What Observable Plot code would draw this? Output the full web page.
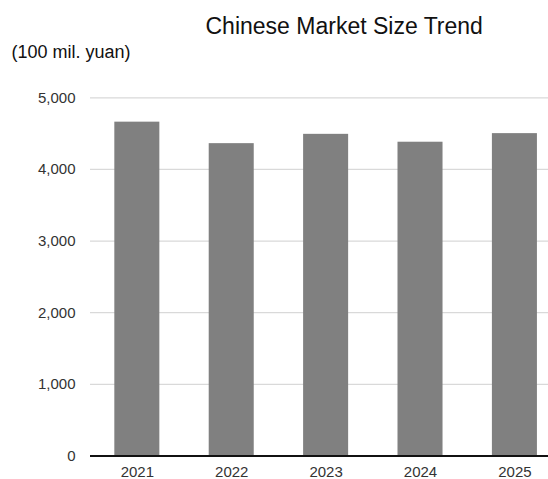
<!DOCTYPE html>
<html>
<head>
<meta charset="utf-8">
<script src="https://cdn.jsdelivr.net/npm/d3@7"></script>
<script src="https://cdn.jsdelivr.net/npm/@observablehq/plot@0.6"></script>
<style>
  html, body { margin: 0; padding: 0; background: #fff; overflow: hidden; }
  #chart svg { display: block; }
</style>
</head>
<body>
<div id="chart"></div>
<script>
const years = ["2021", "2022", "2023", "2024", "2025"];
const values = [4660, 4360, 4490, 4380, 4500];
const yTicks = [0, 1000, 2000, 3000, 4000, 5000];
const titleText = "Chinese Market Size Trend";
const unitText = "(100 mil. yuan)";

const data = years.map((year, i) => ({year, value: values[i]}));

const chart = Plot.plot({
  width: 548,
  height: 479,
  marginTop: 97.3,
  marginBottom: 23.5,
  marginLeft: 90,
  marginRight: 0,
  style: {fontFamily: "'Liberation Sans', Arial, sans-serif", fontSize: "15px", color: "#333", background: "#fff"},
  x: {type: "band", domain: years, paddingInner: 0.523, paddingOuter: 0.1875, align: 0.687, round: false, label: null},
  y: {domain: [0, 5000], label: null},
  marks: [
    Plot.ruleY(yTicks.filter(d => d > 0), {stroke: "#d9d9d9", strokeWidth: 1.3}),
    Plot.barY(data, {x: "year", y: "value", fill: "#808080"}),
    Plot.ruleY([0], {stroke: "#111", strokeWidth: 1.8}),
    Plot.axisY({ticks: yTicks, tickSize: 0, tickPadding: 15, tickFormat: d3.format(","), label: null, fill: "#333", fontSize: 15}),
    Plot.axisX({tickSize: 0, tickPadding: 10, label: null, fill: "#333", fontSize: 15}),
    Plot.text([titleText], {frameAnchor: "top", text: d => d, dx: 24.7, dy: -64, lineAnchor: "bottom", fontSize: 23, fill: "#111"}),
    Plot.text([unitText], {frameAnchor: "top-left", text: d => d, textAnchor: "start", dx: -79, dy: -40, lineAnchor: "bottom", fontSize: 18, fill: "#111"})
  ]
});
document.getElementById("chart").appendChild(chart);
</script>
</body>
</html>
